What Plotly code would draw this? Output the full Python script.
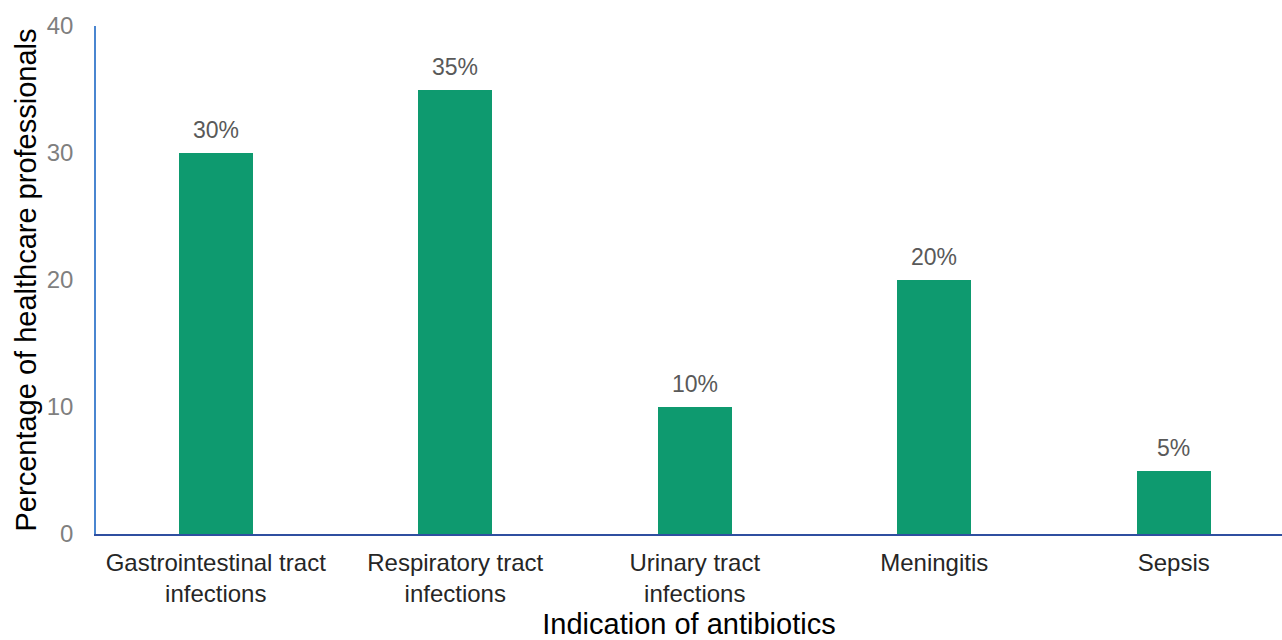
import plotly.graph_objects as go

categories = ["Gastrointestinal tract<br>infections", "Respiratory tract<br>infections",
              "Urinary tract<br>infections", "Meningitis", "Sepsis"]
values = [30, 35, 10, 20, 5]
labels = ["30%", "35%", "10%", "20%", "5%"]
y_ticks = [0, 10, 20, 30, 40]

FONT = "Liberation Sans, Arial, sans-serif"

fig = go.Figure(go.Bar(
    x=categories, y=values, marker=dict(color="#0E9A6F", line=dict(width=0)),
    width=0.31,
))

for c, v, t in zip(categories, values, labels):
    fig.add_annotation(x=c, y=v, text=t, showarrow=False, yanchor="bottom", yshift=8,
                       font=dict(family=FONT, size=23, color="#595959"))

fig.update_layout(
    width=1282, height=640,
    margin=dict(l=96, r=0, t=26, b=106),
    plot_bgcolor="white", paper_bgcolor="white",
    showlegend=False,
    bargap=0,
    font=dict(family=FONT),
    xaxis=dict(
        range=[-0.5, 4.452], showline=True, linecolor="#2F4FA0", linewidth=2,
        showgrid=False, ticks="", ticklabelstandoff=6,
        tickfont=dict(family=FONT, size=24, color="#262626"),
        title=dict(text="Indication of antibiotics", font=dict(family=FONT, size=29, color="black"), standoff=19),
        automargin=False,
    ),
    yaxis=dict(
        range=[0, 40], tickvals=y_ticks, showline=True, linecolor="#4A86D0", linewidth=1.5,
        showgrid=False, zeroline=False, ticks="", ticklabelstandoff=16,
        tickfont=dict(family=FONT, size=24, color="#7F7F7F"),
        title=dict(text="Percentage of healthcare professionals", font=dict(family=FONT, size=29, color="black"), standoff=2),
        automargin=False,
    ),
)

fig.write_html("out.html")
